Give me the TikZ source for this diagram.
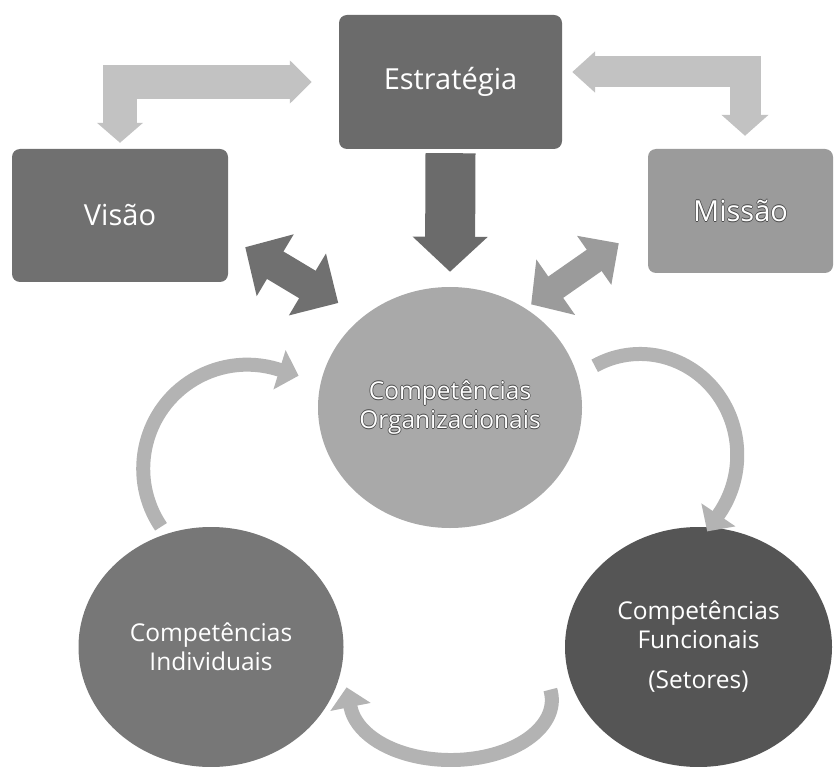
\documentclass[tikz,border=0pt]{standalone}
\usepackage{fontspec}
\setmainfont{Open Sans}
\usepackage{tikz}
\usetikzlibrary{arrows.meta,shapes.geometric,bending}

\definecolor{estrcor}{HTML}{6B6B6B}
\definecolor{visaocor}{HTML}{707070}
\definecolor{missaocor}{HTML}{9B9B9B}
\definecolor{orgcor}{HTML}{A9A9A9}
\definecolor{indcor}{HTML}{777777}
\definecolor{funccor}{HTML}{555555}
\definecolor{setaclara}{HTML}{C2C2C2}
\definecolor{setacurva}{HTML}{B3B3B3}
\definecolor{contornotexto}{HTML}{4A4A4A}

% texto branco com contorno escuro
\newcommand{\contorno}[1]{%
  \makebox[0pt][l]{\textcolor{contornotexto}{\raisebox{0.7pt}{#1}}}%
  \makebox[0pt][l]{\textcolor{contornotexto}{\raisebox{-0.7pt}{#1}}}%
  \makebox[0pt][l]{\textcolor{contornotexto}{\hspace*{0.7pt}#1}}%
  \makebox[0pt][l]{\textcolor{contornotexto}{\hspace*{-0.7pt}#1}}%
  #1}

\begin{document}
\begin{tikzpicture}[x=1pt,y=1pt,
    caixa/.style={rectangle, rounded corners=8pt, inner sep=0pt, text=white,
      font=\fontsize{29}{34}\selectfont},
    circulo/.style={ellipse, inner sep=0pt, align=center, text=white,
      font=\fontsize{24.5}{29}\selectfont},
    cotovelo/.style={draw=setaclara, line width=34pt, line join=miter},
    dupla/.style={line width=32pt,
      {Triangle[length=35pt,width=70pt]}-{Triangle[length=36pt,width=70pt]}},
    curva/.style={draw=setacurva, line width=14pt,
      -{Triangle[length=20pt,width=40pt]}}]

    \useasboundingbox (0,0) rectangle (835,-767);

    % Caixas de cima
    \node[caixa, fill=estrcor, minimum width=223pt, minimum height=134pt] (estr) at (450.5,-82) {Estratégia};
    \node[caixa, fill=visaocor, minimum width=216pt, minimum height=133pt] (visao) at (120,-215.5) {Visão};
    \node[caixa, fill=missaocor, minimum width=185pt, minimum height=124pt] (missao) at (740.5,-211) {\contorno{Missão}};

    % Circulos das competencias
    \node[circulo, fill=orgcor, minimum width=264pt, minimum height=241pt] (org) at (450,-407.5)
      {\contorno{Competências}\\\contorno{Organizacionais}};
    \node[circulo, fill=indcor, minimum width=265pt, minimum height=240pt] (ind) at (211,-647)
      {Competências\\Individuais};
    \node[circulo, fill=funccor, minimum width=267pt, minimum height=240pt] (func) at (698.5,-647)
      {Competências\\Funcionais\\[11pt](Setores)};

    % Setas em cotovelo
    \draw[cotovelo, {Triangle[length=22pt,width=42pt]}-{Triangle[length=20pt,width=45pt]}]
      ([xshift=-27pt]estr.west) -| ([yshift=6pt]visao.north);
    \draw[cotovelo, line width=31pt, {Triangle[length=23pt,width=40pt]}-{Triangle[length=21pt,width=46pt]}]
      ([shift={(10,10)}]estr.east) -| ([shift={(4.5,13)}]missao.north);

    % Setas retas
    \draw[estrcor, line width=50pt, -{Triangle[length=35pt,width=73pt]}]
      ([yshift=-4pt]estr.south) -- ([yshift=15pt]org.north);
    \draw[dupla, visaocor] ([shift={(17,35)}]visao.south east) -- ([yshift=40pt]org.150);
    \draw[missaocor, line width=26pt, {Triangle[length=30pt,width=66pt]}-{Triangle[length=30pt,width=58pt]}]
      ([shift={(-8,14)}]org.45) -- ([shift={(-29,30)}]missao.south west);

    % Setas curvas do ciclo
    \draw[curva] ([xshift=-50pt]ind.north) arc[start angle=214, end angle=73, radius=104] -- ++(21,-6.5);
    \draw[curva] ([shift={(12.5,41.7)}]org.east) arc[start angle=118, end angle=-35, x radius=97, y radius=101] -- ++(-12.5,-18.5);
    \draw[curva] ([shift={(-14.5,-42.6)}]func.west) arc[start angle=10, end angle=-173, x radius=101, y radius=60] -- ++(-4,20);

\end{tikzpicture}
\end{document}
